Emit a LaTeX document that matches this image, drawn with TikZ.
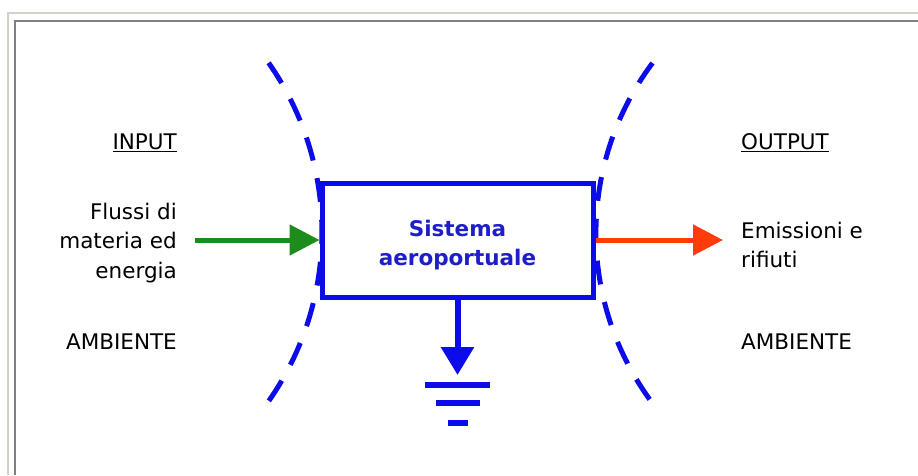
\documentclass[tikz,border=0pt]{standalone}
\usepackage{fontspec}
\setmainfont{DejaVu Sans}
\usepackage{xcolor}
\usetikzlibrary{arrows.meta,positioning}

\definecolor{sysblue}{RGB}{12,12,235}
\definecolor{txtblue}{RGB}{30,30,200}
\definecolor{ingreen}{RGB}{28,140,28}
\definecolor{outred}{RGB}{255,60,10}
\definecolor{framelight}{RGB}{212,208,200}
\definecolor{framedark}{RGB}{128,128,128}

\tikzset{
  lbl/.style={inner sep=0pt, font=\fontsize{21.5}{29.5}\selectfont},
  sysbox/.style={draw=sysblue, line width=5pt, minimum width=271pt, minimum height=114pt, inner sep=0pt},
  flow/.style={line width=5pt, -{Triangle[length=30pt, width=30pt]}},
  border/.style={draw=sysblue, line width=5pt, dash pattern=on 24pt off 18pt}
}

\begin{document}
\begin{tikzpicture}[x=1pt, y=1pt]
\useasboundingbox (0,0) rectangle (918,475);

% window frame
\draw[framelight, line width=2pt] (7.5,0) -- (7.5,462) -- (918,462);
\draw[framedark, line width=2pt] (15,0) -- (15,454) -- (918,454);

% system boundary
\draw[border] (268.6,412.2) arc[start angle=35, end angle=-35, radius=295];
\draw[border] (652.5,412) arc[start angle=143.2, end angle=216.8, radius=284];

% the system
\node[sysbox] (sys) at (457.5,235) {};
\node[lbl, text=txtblue, align=center, font=\fontsize{21.5}{29}\selectfont\bfseries]
  (systxt) at (457.5,230) {Sistema\\aeroportuale};

% left side
\node[lbl, anchor=base east] (input) at (177,326) {\underline{INPUT}};
\node[lbl, anchor=east, align=right] (flussi) at (177,232) {Flussi di\\materia ed\\energia};
\node[lbl, anchor=base east] (ambL) at (177,126) {AMBIENTE};

% right side
\node[lbl, anchor=base west] (output) at (741,326) {\underline{OUTPUT}};
\node[lbl, anchor=west, align=left] (emiss) at (741,230) {Emissioni e\\rifiuti};
\node[lbl, anchor=base west] (ambR) at (741,126) {AMBIENTE};

% flows
\coordinate (inflow) at (195,235);
\coordinate (outflow) at (723,235);
\coordinate (gnd) at (457.5,100);
\draw[flow, ingreen] (inflow) -- (sys.west);
\draw[flow, outred] (sys.east) -- (outflow);
\draw[flow, sysblue, line width=6pt, -{Triangle[length=28pt, width=32pt]}] (sys.south) -- (gnd);

% ground
\foreach \dy/\w in {10/32.5, 28/22, 48/10} {
  \draw[sysblue, line width=6pt] ([xshift=-\w pt, yshift=-\dy pt]gnd) -- ([xshift=\w pt, yshift=-\dy pt]gnd);
}
\end{tikzpicture}
\end{document}
